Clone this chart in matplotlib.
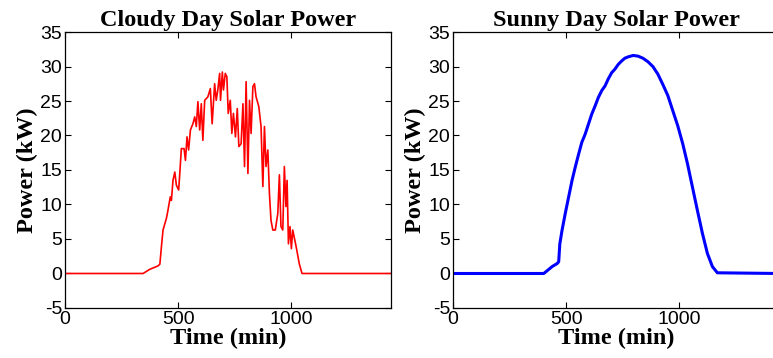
# -*- coding: utf-8 -*-
''' Cloudy vs sunny day solar power. '''
import numpy as np
import matplotlib
matplotlib.use('Agg')
import matplotlib.pyplot as plt

# cloudy day (time in min, power in kW)
cloudy_t = [0, 345, 374, 389, 411, 419, 426, 433, 448, 455, 465, 470, 477, 485,
            492, 502, 507, 514, 526, 532, 539, 546, 554, 565, 573, 580, 587,
            595, 602, 609, 617, 631, 642, 650, 661, 668, 675, 683, 687, 695,
            700, 708, 715, 721, 730, 737, 744, 753, 761, 768, 778, 786, 793,
            800, 808, 815, 822, 830, 837, 844, 856, 866, 874, 881, 888, 896,
            903, 910, 918, 929, 940, 947, 954, 962, 969, 976, 981, 987, 994,
            1000, 1006, 1021, 1035, 1047, 1440]
cloudy_p = [0, 0, 0.6, 0.8, 1.1, 1.35, 3.9, 6.3, 8.0, 9.2, 11.1, 10.6, 13.5,
            14.7, 12.8, 12.1, 14.5, 18.1, 18.1, 16.4, 19.8, 17.9, 20.8, 21.7,
            22.7, 21.3, 24.9, 20.8, 24.6, 19.3, 25.1, 25.6, 26.8, 21.7, 27.5,
            25.1, 26.6, 29.0, 25.1, 29.2, 26.6, 29.0, 28.5, 23.2, 25.1, 20.3,
            23.2, 19.8, 23.9, 18.4, 18.8, 24.6, 15.5, 27.8, 14.5, 25.1, 20.3,
            27.1, 27.5, 25.6, 24.2, 21.3, 12.6, 21.3, 15.5, 17.9, 11.6, 7.7,
            6.3, 6.3, 8.7, 14.3, 6.8, 6.3, 15.5, 9.7, 13.5, 4.3, 6.8, 3.6, 6.3,
            3.9, 1.4, 0, 0]

# sunny day
sunny_t = [0, 401, 416, 438, 460, 467, 472, 482, 496, 511, 526, 540, 555, 569,
           584, 599, 613, 628, 642, 657, 672, 686, 701, 715, 730, 745, 759,
           774, 796, 818, 839, 861, 883, 905, 927, 949, 971, 993, 1015, 1036,
           1058, 1080, 1102, 1124, 1146, 1168, 1440]
sunny_p = [0, 0, 0.4, 1.0, 1.44, 1.7, 4.3, 6.3, 8.7, 11.1, 13.5, 15.4, 17.3,
           19.0, 20.2, 21.7, 23.1, 24.3, 25.5, 26.5, 27.2, 28.2, 29.1, 29.6,
           30.3, 30.8, 31.2, 31.4, 31.6, 31.5, 31.2, 30.7, 30.0, 28.9, 27.4,
           25.8, 23.6, 21.4, 18.8, 15.9, 12.5, 9.1, 5.8, 2.9, 1.0, 0.1, 0]

titles = ['Cloudy Day Solar Power', 'Sunny Day Solar Power']
xticks = [0, 500, 1000]
yticks = np.arange(-5, 40, 5)

serif = {'family': 'Liberation Serif', 'weight': 'bold', 'size': 17.5}
plt.rcParams['font.family'] = 'Liberation Sans'
plt.rcParams['axes.unicode_minus'] = False


def setup(ax, title):
    ax.set_xlim(0, 1440)
    ax.set_ylim(-5, 35)
    ax.set_xticks(xticks)
    ax.set_yticks(yticks)
    ax.tick_params(direction='in', top=True, right=True, length=4,
                   labelsize=14, pad=2, width=0.8)
    for s in ax.spines.values():
        s.set_linewidth(0.9)
    ax.set_title(title, fontdict=serif, pad=4)
    ax.set_xlabel('Time (min)', fontdict=serif, labelpad=0)
    ax.set_ylabel('Power (kW)', fontdict=serif, labelpad=2)


fig = plt.figure(figsize=(7.73, 3.58), dpi=100)
ax1 = fig.add_axes([0.0841, 0.1397, 0.4217, 0.7709])
ax2 = fig.add_axes([0.586, 0.1397, 0.4217, 0.7709])

ax1.plot(cloudy_t, cloudy_p, color='red', lw=1.2)
setup(ax1, titles[0])
ax2.plot(sunny_t, sunny_p, color='blue', lw=2.2)
setup(ax2, titles[1])

fig.savefig('out.png', dpi=100)
